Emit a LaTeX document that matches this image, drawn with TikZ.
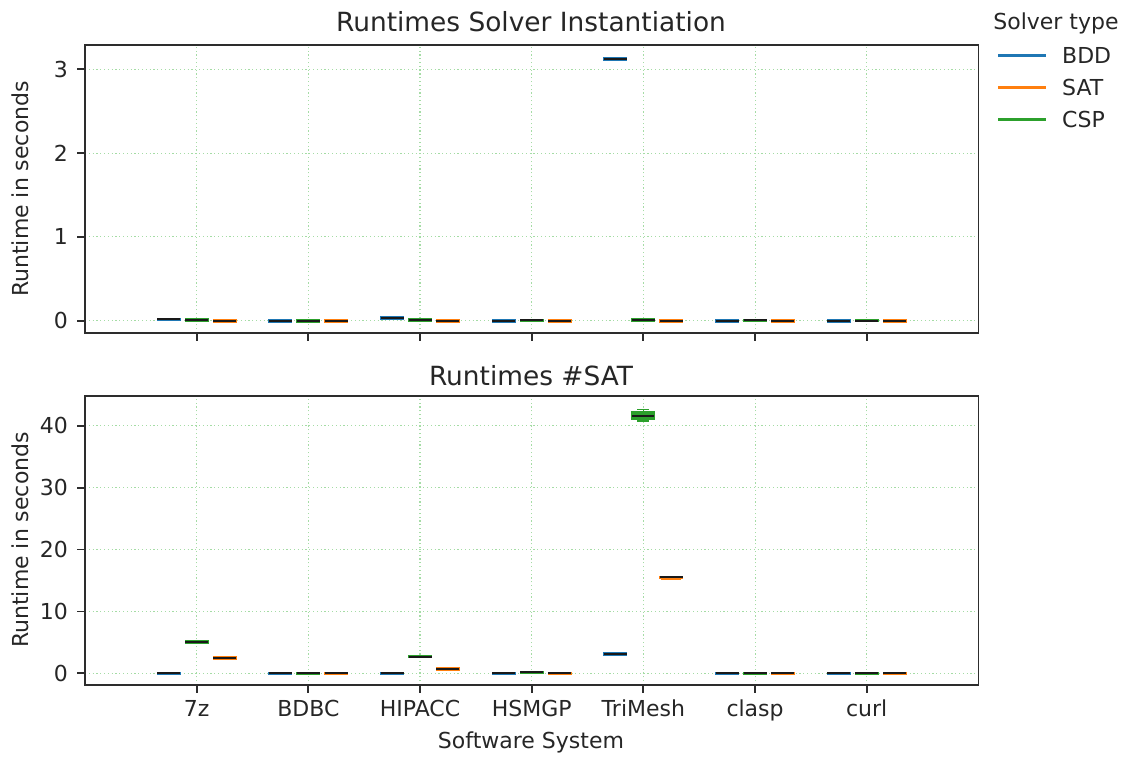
\documentclass[tikz,border=0pt]{standalone}
\usepackage{fontspec}
\setmainfont{DejaVu Sans}
\definecolor{cBDD}{HTML}{1F77B4}
\definecolor{cSAT}{HTML}{FF7F0E}
\definecolor{cCSP}{HTML}{2CA02C}
\definecolor{gridc}{RGB}{165,220,165}
\definecolor{spinec}{RGB}{45,45,45}
\newcommand\rbox[3]{%
  \fill[#3] ([xshift=-12pt,yshift=-1.8pt]#1,#2) rectangle ([xshift=12pt,yshift=1.8pt]#1,#2);
  \draw[med] ([xshift=-11.5pt]#1,#2) -- ([xshift=11.5pt]#1,#2);}
\begin{document}
\begin{tikzpicture}[x=1pt,y=-1pt,
  every node/.style={font=\fontsize{22}{26}\selectfont, text=black!85},
  gridl/.style={gridc, line width=1.1pt, dash pattern=on 1.2pt off 2.6pt},
  spine/.style={spinec, line width=1.8pt},
  tickl/.style={spinec, line width=1.8pt},
  med/.style={black!90, line width=2pt},
  leg/.style={line width=3pt},
  ttl/.style={font=\fontsize{26.4}{30}\selectfont},
  xlab/.style={anchor=north, inner sep=0pt, text height=16pt, text depth=5pt},
  ylab/.style={anchor=east, inner sep=0pt}]
\useasboundingbox (0,0) rectangle (1124,756);

% ---------- top axes ----------
\begin{scope}[shift={(196.7pt,-320.7pt)}, x=111.67pt, y=83.8pt]
  \foreach \i in {0,...,6} \draw[gridl] (\i,-0.147) -- (\i,3.29);
  \foreach \j in {0,...,3} {
    \draw[gridl] (-1,\j) -- (7,\j);
    \draw[tickl] (-1,\j) -- ++(-7.7pt,0pt);
    \node[ylab] at ([xshift=-17pt]-1,\j) {\j};
  }
  \foreach \i in {0,...,6} \draw[tickl] (\i,-0.147) -- ++(0pt,-7.7pt);
  % boxes: BDD (-0.25), CSP (0), SAT (+0.25)
  \rbox{-0.25}{0.015}{cBDD} \rbox{0}{0.005}{cCSP} \rbox{0.25}{0}{cSAT}
  \rbox{0.75}{0}{cBDD} \rbox{1}{0}{cCSP} \rbox{1.25}{0}{cSAT}
  \rbox{1.75}{0.03}{cBDD} \rbox{2}{0.008}{cCSP} \rbox{2.25}{0}{cSAT}
  \rbox{2.75}{0}{cBDD} \rbox{3}{0.003}{cCSP} \rbox{3.25}{0}{cSAT}
  \rbox{3.75}{3.12}{cBDD} \rbox{4}{0.01}{cCSP} \rbox{4.25}{0}{cSAT}
  \rbox{4.75}{0}{cBDD} \rbox{5}{0.003}{cCSP} \rbox{5.25}{0}{cSAT}
  \rbox{5.75}{0}{cBDD} \rbox{6}{0.002}{cCSP} \rbox{6.25}{0}{cSAT}
  \draw[spine] (-1,-0.147) rectangle (7,3.29);
\end{scope}
\node[ttl] (t1) at (531,22) {Runtimes Solver Instantiation};
\node[rotate=90] (yl1) at (20,189) {Runtime in seconds};

% ---------- bottom axes ----------
\begin{scope}[shift={(196.7pt,-673.3pt)}, x=111.67pt, y=6.19pt]
  \foreach \i in {0,...,6} \draw[gridl] (\i,-1.89) -- (\i,44.8);
  \foreach \j in {0,10,...,40} {
    \draw[gridl] (-1,\j) -- (7,\j);
    \draw[tickl] (-1,\j) -- ++(-7.7pt,0pt);
    \node[ylab] at ([xshift=-17pt]-1,\j) {\j};
  }
  \foreach \i/\lab in {0/7z,1/BDBC,2/HIPACC,3/HSMGP,4/TriMesh,5/clasp,6/curl} {
    \draw[tickl] (\i,-1.89) -- ++(0pt,-7.7pt);
    \node[xlab] at ([yshift=-15pt]\i,-1.89) {\lab};
  }
  \rbox{-0.25}{0}{cBDD} \rbox{0}{5.1}{cCSP} \rbox{0.25}{2.5}{cSAT}
  \rbox{0.75}{0}{cBDD} \rbox{1}{0}{cCSP} \rbox{1.25}{0}{cSAT}
  \rbox{1.75}{0}{cBDD} \rbox{2}{2.7}{cCSP} \rbox{2.25}{0.65}{cSAT}
  \rbox{2.75}{0}{cBDD} \rbox{3}{0.15}{cCSP} \rbox{3.25}{0}{cSAT}
  \rbox{3.75}{3.1}{cBDD}
  % TriMesh CSP box with whiskers
  \draw[cCSP, line width=1.6pt] (4,42.3) -- (4,42.6) ([xshift=-6pt]4,42.6) -- ([xshift=6pt]4,42.6);
  \draw[cCSP, line width=1.6pt] (4,41.0) -- (4,40.8) ([xshift=-6pt]4,40.8) -- ([xshift=6pt]4,40.8);
  \fill[cCSP] ([xshift=-12pt]4,41.0) rectangle ([xshift=12pt]4,42.3);
  \draw[med, line width=2.6pt] ([xshift=-11pt]4,41.6) -- ([xshift=11pt]4,41.6);
  % TriMesh SAT
  \fill[cSAT] ([xshift=-10pt]4.25,15.05) rectangle ([xshift=10pt]4.25,15.3);
  \rbox{4.25}{15.5}{cSAT}
  \rbox{4.75}{0}{cBDD} \rbox{5}{0}{cCSP} \rbox{5.25}{0}{cSAT}
  \rbox{5.75}{0}{cBDD} \rbox{6}{0}{cCSP} \rbox{6.25}{0}{cSAT}
  \draw[spine] (-1,-1.89) rectangle (7,44.8);
\end{scope}
\node[ttl] (t2) at (531,376) {Runtimes \#SAT};
\node[rotate=90] (yl2) at (20,540) {Runtime in seconds};
\node (xl) at (531,742) {Software System};

% ---------- legend ----------
\node (lt) at (1056,23) {Solver type};
\coordinate (l1a) at (998,55); \coordinate (l1b) at (1046,55);
\coordinate (l2a) at (998,87); \coordinate (l2b) at (1046,87);
\coordinate (l3a) at (998,119); \coordinate (l3b) at (1046,119);
\draw[leg, cBDD] (l1a) -- (l1b);
\draw[leg, cSAT] (l2a) -- (l2b);
\draw[leg, cCSP] (l3a) -- (l3b);
\node[anchor=west, inner sep=0pt] (lb1) at (1062,55) {BDD};
\node[anchor=west, inner sep=0pt] (lb2) at (1062,87) {SAT};
\node[anchor=west, inner sep=0pt] (lb3) at (1062,119) {CSP};
\end{tikzpicture}
\end{document}
